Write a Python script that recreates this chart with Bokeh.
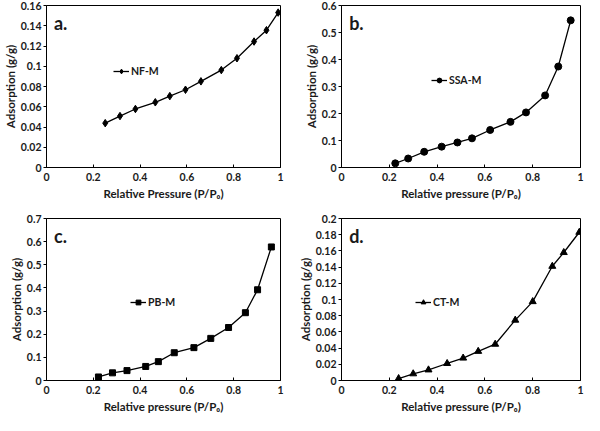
from bokeh.plotting import figure
from bokeh.layouts import gridplot
from bokeh.models import FixedTicker, Legend, LegendItem, Label
from bokeh.embed import file_html
from bokeh.resources import INLINE

# ---- data ----
nf_x = [0.251, 0.314, 0.380, 0.465, 0.527, 0.594, 0.660, 0.747, 0.814, 0.887, 0.940, 0.990]
nf_y = [0.0438, 0.0508, 0.0578, 0.0644, 0.0705, 0.0768, 0.0851, 0.0962, 0.1079, 0.1244, 0.1356, 0.1530]

ssa_x = [0.225, 0.279, 0.346, 0.419, 0.485, 0.546, 0.622, 0.707, 0.772, 0.852, 0.907, 0.959]
ssa_y = [0.0154, 0.0333, 0.0582, 0.0772, 0.0927, 0.108, 0.139, 0.169, 0.204, 0.267, 0.374, 0.545]

pb_x = [0.222, 0.282, 0.344, 0.424, 0.478, 0.546, 0.630, 0.702, 0.778, 0.850, 0.902, 0.961]
pb_y = [0.0152, 0.0331, 0.0428, 0.0607, 0.0815, 0.120, 0.142, 0.182, 0.229, 0.293, 0.392, 0.577]

ct_x = [0.239, 0.300, 0.364, 0.442, 0.509, 0.572, 0.643, 0.727, 0.800, 0.882, 0.930, 0.995]
ct_y = [0.0024, 0.0083, 0.0131, 0.0210, 0.0277, 0.0360, 0.0448, 0.0745, 0.0974, 0.141, 0.158, 0.183]

x_ticks = [0, 0.2, 0.4, 0.6, 0.8, 1]
x_labels = ["0", "0.2", "0.4", "0.6", "0.8", "1"]

ya_ticks = [0, 0.02, 0.04, 0.06, 0.08, 0.1, 0.12, 0.14, 0.16]
ya_labels = ["0", "0.02", "0.04", "0.06", "0.08", "0.1", "0.12", "0.14", "0.16"]
yb_ticks = [0, 0.1, 0.2, 0.3, 0.4, 0.5, 0.6]
yb_labels = ["0", "0.1", "0.2", "0.3", "0.4", "0.5", "0.6"]
yc_ticks = [0, 0.1, 0.2, 0.3, 0.4, 0.5, 0.6, 0.7]
yc_labels = ["0", "0.1", "0.2", "0.3", "0.4", "0.5", "0.6", "0.7"]
yd_ticks = [0, 0.02, 0.04, 0.06, 0.08, 0.1, 0.12, 0.14, 0.16, 0.18, 0.2]
yd_labels = ["0", "0.02", "0.04", "0.06", "0.08", "0.1", "0.12", "0.14", "0.16", "0.18", "0.2"]

series_names = ["NF-M", "SSA-M", "PB-M", "CT-M"]
panel_tags = ["a.", "b.", "c.", "d."]
x_titles = ["Relative Pressure (P/P\u2080)", "Relative pressure (P/P\u2080)",
            "Relative pressure (P/P\u2080)", "Relative pressure (P/P\u2080)"]
y_title = "Adsorption (g/g)"

FONT = "Lato"
TXT = "#1a1a1a"


def make_panel(xs, ys, yticks, ylabels, ymax, name, tag, xtitle, marker, msize,
               w, h, bl, br, bt, bb, leg_x, leg_y, tag_y):
    p = figure(width=w, height=h, x_range=(0, 1), y_range=(0, ymax),
               output_backend="svg", toolbar_location=None,
               min_border_left=bl, min_border_right=br,
               min_border_top=bt, min_border_bottom=bb)
    p.xgrid.visible = False
    p.ygrid.visible = False
    p.outline_line_color = "#000000"
    p.outline_line_width = 1
    p.background_fill_color = "white"
    p.border_fill_color = "white"

    p.xaxis.ticker = FixedTicker(ticks=x_ticks)
    p.xaxis.major_label_overrides = {t: l for t, l in zip(x_ticks, x_labels)}
    p.yaxis.ticker = FixedTicker(ticks=yticks)
    p.yaxis.major_label_overrides = {t: l for t, l in zip(yticks, ylabels)}
    for ax in (p.xaxis[0], p.yaxis[0]):
        ax.axis_line_color = "#000000"
        ax.major_tick_line_color = "#000000"
        ax.minor_tick_line_color = None
        ax.major_label_text_font = FONT
        ax.major_label_text_font_style = "bold"
        ax.major_label_text_font_size = "10.5px"
        ax.major_label_text_color = TXT
        ax.axis_label_text_font = FONT
        ax.axis_label_text_font_style = "bold"
        ax.axis_label_text_font_size = "11.5px"
        ax.axis_label_text_color = TXT
    p.xaxis.major_tick_in = 3
    p.xaxis.major_tick_out = 0
    p.yaxis.major_tick_in = 0
    p.yaxis.major_tick_out = 3
    p.xaxis.major_label_standoff = 5
    p.yaxis.major_label_standoff = 2
    p.xaxis.axis_label = xtitle
    p.yaxis.axis_label = y_title
    p.xaxis.axis_label_standoff = 3
    p.yaxis.axis_label_standoff = 1

    lr = p.line(xs, ys, line_color="#000000", line_width=1.3)
    sr = p.scatter(xs, ys, marker=marker, size=msize, fill_color="#000000",
                   line_color="#000000")

    leg = Legend(items=[LegendItem(label=name, renderers=[lr, sr])],
                 location=(leg_x, leg_y), background_fill_alpha=0,
                 border_line_color=None, padding=0, margin=0, spacing=0,
                 glyph_width=16, glyph_height=12, label_standoff=2,
                 label_text_font=FONT, label_text_font_style="bold",
                 label_text_font_size="10.5px", label_text_color=TXT)
    p.add_layout(leg, "center")

    p.add_layout(Label(x=0.032, y=tag_y, text=tag, text_font=FONT,
                       text_font_style="bold", text_font_size="18px",
                       text_color=TXT, text_baseline="middle"))
    return p


pa = make_panel(nf_x, nf_y, ya_ticks, ya_labels, 0.16, series_names[0], panel_tags[0],
                x_titles[0], "diamond", 7.5, 292, 203, 36, 12, 5, 36, 67, 90, 0.143)
pb = make_panel(ssa_x, ssa_y, yb_ticks, yb_labels, 0.6, series_names[1], panel_tags[1],
                x_titles[1], "circle", 7, 292, 203, 49, 4, 5, 36, 90, 81, 0.535)
pc = make_panel(pb_x, pb_y, yc_ticks, yc_labels, 0.7, series_names[2], panel_tags[2],
                x_titles[2], "square", 6, 292, 212, 36, 12, 15, 35, 84, 72, 0.625)
pd_ = make_panel(ct_x, ct_y, yd_ticks, yd_labels, 0.2, series_names[3], panel_tags[3],
                 x_titles[3], "triangle", 7, 292, 212, 49, 4, 15, 35, 74, 72, 0.178)

grid = gridplot([[pa, pb], [pc, pd_]], toolbar_location=None)

open("out.html", "w").write(file_html(grid, INLINE))
